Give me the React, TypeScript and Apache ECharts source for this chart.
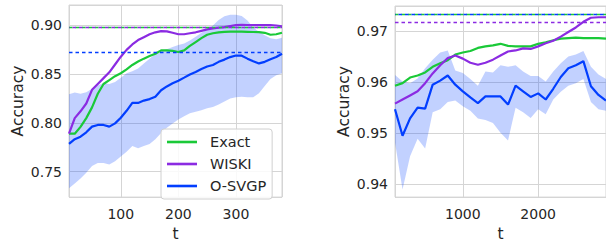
import React, { useEffect, useRef } from "react";
import * as echarts from "echarts";

// ---------- Left panel data ----------
const tLeft = [10, 20, 30, 40, 50, 60, 70, 80, 90, 100, 110, 120, 130, 140, 150, 160, 170, 180, 190, 200, 210, 220, 230, 240, 250, 260, 270, 280, 290, 300, 310, 320, 330, 340, 350, 360, 370, 380];
const exactLeft = [0.789, 0.789, 0.796, 0.805, 0.816, 0.830, 0.840, 0.844, 0.848, 0.851, 0.855, 0.8595, 0.863, 0.866, 0.8686, 0.871, 0.8745, 0.8745, 0.874, 0.8728, 0.8745, 0.879, 0.883, 0.887, 0.8905, 0.892, 0.893, 0.8935, 0.8936, 0.8936, 0.8936, 0.8935, 0.8933, 0.8932, 0.8925, 0.8905, 0.891, 0.8925];
const wiskiLeft = [0.789, 0.805, 0.812, 0.820, 0.834, 0.840, 0.846, 0.852, 0.860, 0.868, 0.875, 0.8805, 0.885, 0.888, 0.891, 0.893, 0.8942, 0.894, 0.8925, 0.891, 0.891, 0.892, 0.893, 0.8945, 0.896, 0.897, 0.8977, 0.8984, 0.8994, 0.9003, 0.9006, 0.9005, 0.9004, 0.9003, 0.9004, 0.9003, 0.9, 0.899];
const osvgpLeft = [0.7785, 0.7834, 0.786, 0.7905, 0.7963, 0.798, 0.798, 0.7963, 0.7996, 0.8054, 0.8125, 0.8206, 0.8206, 0.823, 0.8245, 0.827, 0.8336, 0.8375, 0.8407, 0.8433, 0.8465, 0.8498, 0.8524, 0.8553, 0.8579, 0.8595, 0.8627, 0.865, 0.8676, 0.8692, 0.869, 0.866, 0.8634, 0.8611, 0.8627, 0.8653, 0.8676, 0.871];
const osvgpLeftUpper = [0.8294, 0.8313, 0.830, 0.8315, 0.835, 0.8385, 0.841, 0.840, 0.842, 0.8465, 0.851, 0.853, 0.856, 0.861, 0.866, 0.871, 0.874, 0.8757, 0.878, 0.88, 0.8815, 0.8845, 0.8885, 0.8925, 0.896, 0.9, 0.9055, 0.9095, 0.911, 0.911, 0.9097, 0.905, 0.898, 0.8935, 0.89, 0.887, 0.886, 0.8875];
const osvgpLeftLower = [0.733, 0.738, 0.743, 0.749, 0.756, 0.759, 0.759, 0.7575, 0.7607, 0.7656, 0.7704, 0.7763, 0.774, 0.7763, 0.7785, 0.7834, 0.7898, 0.795, 0.7996, 0.8035, 0.807, 0.81, 0.8115, 0.813, 0.815, 0.8165, 0.819, 0.822, 0.825, 0.8265, 0.827, 0.8265, 0.8265, 0.8305, 0.838, 0.845, 0.849, 0.851];
// full-data reference levels (dashed), left panel: Exact, WISKI, O-SVGP
const refLeft = [0.8982, 0.8982, 0.8722];

// ---------- Right panel data ----------
const tRight = [100, 200, 300, 400, 500, 600, 700, 800, 900, 1000, 1100, 1200, 1300, 1400, 1500, 1600, 1700, 1800, 1900, 2000, 2100, 2200, 2300, 2400, 2500, 2600, 2700, 2800, 2900];
const exactRight = [0.9593, 0.9598, 0.9609, 0.9613, 0.9619, 0.963, 0.9637, 0.9643, 0.9654, 0.9658, 0.9661, 0.9667, 0.967, 0.9672, 0.9675, 0.9671, 0.967, 0.967, 0.967, 0.9675, 0.9678, 0.9682, 0.9685, 0.9686, 0.9687, 0.9686, 0.9686, 0.9686, 0.9685];
const wiskiRight = [0.9558, 0.9566, 0.9574, 0.9582, 0.9598, 0.9617, 0.9633, 0.9647, 0.9652, 0.9646, 0.9638, 0.9634, 0.9638, 0.9644, 0.9652, 0.966, 0.9662, 0.9666, 0.9665, 0.967, 0.9676, 0.9681, 0.9689, 0.9698, 0.9707, 0.9718, 0.9726, 0.9727, 0.9727];
const osvgpRight = [0.9547, 0.9495, 0.9529, 0.955, 0.9548, 0.9595, 0.9603, 0.9613, 0.9595, 0.9582, 0.957, 0.9559, 0.9572, 0.9572, 0.9572, 0.9556, 0.9593, 0.9582, 0.9571, 0.9578, 0.9566, 0.9587, 0.961, 0.9627, 0.9633, 0.9641, 0.9592, 0.9575, 0.9564];
const osvgpRightUpper = [0.9614, 0.9601, 0.9598, 0.9607, 0.9627, 0.9644, 0.9658, 0.9662, 0.9623, 0.9618, 0.9606, 0.9593, 0.9621, 0.9619, 0.9633, 0.963, 0.9633, 0.9621, 0.9612, 0.9612, 0.9601, 0.9621, 0.9637, 0.965, 0.9654, 0.9661, 0.963, 0.9615, 0.9606];
const osvgpRightLower = [0.9482, 0.939, 0.9455, 0.9489, 0.947, 0.9541, 0.9547, 0.9561, 0.9564, 0.9553, 0.9544, 0.9529, 0.9526, 0.952, 0.9501, 0.9486, 0.955, 0.9541, 0.953, 0.9547, 0.9537, 0.9566, 0.9581, 0.9593, 0.9598, 0.9606, 0.9561, 0.9547, 0.9544];
// full-data reference levels (dashed), right panel: Exact, WISKI, O-SVGP
const refRight = [0.9732, 0.9717, 0.9732];

const seriesNames = ["Exact", "WISKI", "O-SVGP"];
const colors = ["#1ac938", "#8b2be2", "#023eff"];

const FONT = "DejaVu Sans";
const TXT = "#262626";
const GRIDC = "#d5d5d5";

function pairs(xs: number[], ys: number[]) {
  return xs.map((x, i) => [x, ys[i]]);
}

function panelSeries(
  idx: number,
  ts: number[],
  lines: number[][],
  upper: number[],
  lower: number[],
  refs: number[],
  dashOffsets: number[]
) {
  const out: any[] = [];
  out.push({
    name: "_band" + idx,
    type: "custom",
    xAxisIndex: idx,
    yAxisIndex: idx,
    data: ts.map((t, i) => [t, lower[i], upper[i]]),
    silent: true,
    z: 1,
    renderItem: (params: any, api: any) => {
      if (params.dataIndex !== 0) return null;
      const pts: number[][] = [];
      for (let i = 0; i < ts.length; i++) pts.push(api.coord([ts[i], upper[i]]));
      for (let i = ts.length - 1; i >= 0; i--) pts.push(api.coord([ts[i], lower[i]]));
      return {
        type: "polygon",
        shape: { points: pts },
        style: { fill: colors[2], opacity: 0.24 },
      };
    },
  });
  lines.forEach((ys, k) => {
    out.push({
      name: seriesNames[k],
      type: "line",
      xAxisIndex: idx,
      yAxisIndex: idx,
      data: pairs(ts, ys),
      symbol: "none",
      color: colors[k],
      lineStyle: { color: colors[k], width: 2.2 },
      z: 3,
      markLine: {
        silent: true,
        symbol: "none",
        precision: 5,
        label: { show: false },
        lineStyle: {
          color: colors[k],
          width: 1.3,
          type: [3.5, 3],
          dashOffset: dashOffsets[k],
        },
        data: [{ yAxis: refs[k] }],
      },
    });
  });
  return out;
}

export default function App() {
  const ref = useRef<HTMLDivElement>(null);
  useEffect(() => {
    if (!ref.current) return;
    const chart = echarts.init(ref.current, undefined, { renderer: "svg" });
    const axisLabel = (fmt: (v: number) => string, margin: number) => ({
      fontFamily: FONT,
      fontSize: 14,
      color: TXT,
      margin,
      showMinLabel: false,
      showMaxLabel: false,
      formatter: fmt,
    });
    const nameStyle = { fontFamily: FONT, fontSize: 15.5, color: TXT };
    const xAxisCommon = {
      type: "value",
      name: "t",
      nameLocation: "middle",
      nameGap: 23,
      nameTextStyle: nameStyle,
      axisLine: { show: false },
      axisTick: { show: false },
      splitLine: { show: true, lineStyle: { color: GRIDC, width: 1 } },
    };
    const yAxisCommon = {
      type: "value",
      name: "Accuracy",
      nameLocation: "middle",
      nameGap: 43,
      nameTextStyle: nameStyle,
      axisLine: { show: false },
      axisTick: { show: false },
      splitLine: { show: true, lineStyle: { color: GRIDC, width: 1 } },
    };
    chart.setOption({
      animation: false,
      backgroundColor: "#ffffff",
      textStyle: { fontFamily: FONT },
      grid: [
        { left: 69, top: 5, width: 213, height: 203, show: true, borderColor: GRIDC, borderWidth: 1, backgroundColor: "transparent" },
        { left: 395, top: 6, width: 212, height: 202, show: true, borderColor: GRIDC, borderWidth: 1, backgroundColor: "transparent" },
      ],
      xAxis: [
        { ...xAxisCommon, gridIndex: 0, min: 10, max: 380, splitNumber: 4, axisLabel: axisLabel((v) => String(Math.round(v)), 10) },
        { ...xAxisCommon, gridIndex: 1, min: 100, max: 2900, splitNumber: 3, axisLabel: axisLabel((v) => String(Math.round(v)), 10) },
      ],
      yAxis: [
        { ...yAxisCommon, gridIndex: 0, min: 0.724, max: 0.921, splitNumber: 4, axisLabel: axisLabel((v) => v.toFixed(2), 7) },
        { ...yAxisCommon, gridIndex: 1, min: 0.9375, max: 0.9749, splitNumber: 4, axisLabel: axisLabel((v) => v.toFixed(2), 7) },
      ],
      legend: {
        data: seriesNames,
        orient: "vertical",
        left: 161,
        top: 129,
        padding: [5, 6, 5, 6],
        itemGap: 6,
        itemWidth: 30,
        itemHeight: 2.6,
        icon: "rect",
        backgroundColor: "rgba(255,255,255,0.85)",
        borderColor: "#d0d0d0",
        borderWidth: 1,
        borderRadius: 3,
        selectedMode: false,
        formatter: (name: string) => "{n|" + name + "}",
        textStyle: {
          fontFamily: FONT,
          fontSize: 14.5,
          color: TXT,
          lineHeight: 16,
          rich: {
            n: {
              fontFamily: FONT,
              fontSize: 14.5,
              color: TXT,
              lineHeight: 16,
              padding: [0, 0, 0, 8],
            },
          },
        },
      },
      series: [
        ...panelSeries(0, tLeft, [exactLeft, wiskiLeft, osvgpLeft], osvgpLeftUpper, osvgpLeftLower, refLeft, [0, 3.25, 0]),
        ...panelSeries(1, tRight, [exactRight, wiskiRight, osvgpRight], osvgpRightUpper, osvgpRightLower, refRight, [0, 0, 3.25]),
      ],
    });
    return () => chart.dispose();
  }, []);
  return (
    <div
      ref={ref}
      style={{ position: "absolute", left: 0, top: 0, width: 606, height: 247 }}
    />
  );
}
